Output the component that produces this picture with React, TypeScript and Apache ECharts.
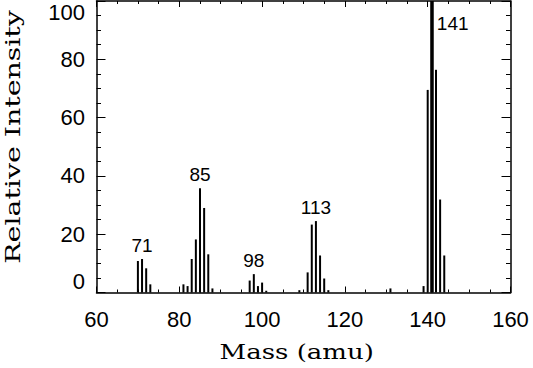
import React, { useEffect, useRef } from "react";
import * as echarts from "echarts";

// Mass spectrum: mass (amu) and relative intensity (%)
const masses = [70, 71, 72, 73, 81, 82, 83, 84, 85, 86, 87, 88, 97, 98, 99, 100, 101, 109, 111, 112, 113, 114, 115, 116, 131, 139, 140, 141, 142, 143, 144];
const intensities = [10.8, 11.5, 8.3, 2.8, 2.8, 2.2, 11.5, 18.2, 35.8, 29.0, 13.1, 1.4, 4.1, 6.3, 2.2, 3.4, 0.6, 0.8, 6.9, 23.3, 24.5, 12.7, 4.8, 0.8, 1.4, 2.2, 69.5, 100, 76.4, 31.9, 12.7];
const labeledPeaks = [71, 85, 98, 113];
const basePeak = 141;
const xRange = [60, 160];
const yRange = [0, 100];
const xTitle = "Mass (amu)";
const yTitle = "Relative Intensity";

export default function App() {
  const ref = useRef<HTMLDivElement>(null);
  useEffect(() => {
    if (!ref.current) return;
    const chart = echarts.init(ref.current, undefined, { renderer: "svg" });
    const tickFont = { color: "#000", fontFamily: "Liberation Sans", fontSize: 22 };
    const data = masses.map((m, i) => {
      const item: any = { value: [m, intensities[i]] };
      if (labeledPeaks.includes(m)) {
        item.label = { show: true, position: "top", distance: 4, formatter: String(m) };
      }
      if (m === basePeak) {
        item.label = { show: true, position: [6, 22], align: "left", verticalAlign: "middle", formatter: String(m) };
      }
      return item;
    });
    const baseIdx = masses.indexOf(basePeak);
    const commonX = {
      type: "value",
      min: xRange[0],
      max: xRange[1],
      interval: 20,
      splitLine: { show: false },
      axisLine: { show: true, onZero: false, lineStyle: { color: "#000", width: 1.5 } },
      axisTick: { show: true, inside: true, length: 6, lineStyle: { color: "#000", width: 1 } },
      minorTick: { show: true, splitNumber: 4, length: 3, lineStyle: { color: "#000", width: 1 } },
    };
    const commonY = {
      type: "value",
      min: yRange[0],
      max: yRange[1],
      interval: 20,
      splitLine: { show: false },
      axisLine: { show: true, onZero: false, lineStyle: { color: "#000", width: 1.5 } },
      axisTick: { show: true, inside: true, length: 9, lineStyle: { color: "#000", width: 1 } },
      minorTick: { show: true, splitNumber: 4, length: 4.5, lineStyle: { color: "#000", width: 1 } },
    };
    chart.setOption({
      animation: false,
      backgroundColor: "#fff",
      grid: { left: 96.5, right: 22.5, top: 1, bottom: 75.5, containLabel: false },
      xAxis: [
        { ...commonX, position: "bottom", axisLabel: { ...tickFont, margin: 16 } },
        { ...commonX, position: "top", axisLabel: { show: false } },
      ],
      yAxis: [
        {
          ...commonY,
          position: "left",
          axisLabel: { ...tickFont, margin: 11.5, verticalAlignMinLabel: "bottom", verticalAlignMaxLabel: "top" },
        },
        { ...commonY, position: "right", axisLabel: { show: false } },
      ],
      series: [
        {
          type: "bar",
          xAxisIndex: 0,
          yAxisIndex: 0,
          barWidth: 2,
          itemStyle: { color: "#000" },
          label: { show: false, color: "#000", fontFamily: "Liberation Sans", fontSize: 19 },
          data,
          markLine: {
            silent: true,
            symbol: "none",
            label: { show: false },
            lineStyle: { color: "#000", width: 3.5, type: "solid" },
            data: [[{ coord: [basePeak, 0] }, { coord: [basePeak, intensities[baseIdx]] }]],
          },
        },
      ],
      graphic: [
        {
          type: "text",
          x: 296.7,
          y: 352,
          scaleX: 1.3,
          style: { text: xTitle, fill: "#000", font: '20px "DejaVu Serif"', align: "center", verticalAlign: "middle" },
        },
        {
          type: "text",
          x: 13,
          y: 137,
          rotation: Math.PI / 2,
          scaleX: 1.42,
          style: { text: yTitle, fill: "#000", font: '20px "DejaVu Serif"', align: "center", verticalAlign: "middle" },
        },
      ],
    });
    return () => chart.dispose();
  }, []);
  return <div ref={ref} style={{ position: "fixed", left: 0, top: 0, width: 533, height: 368 }} />;
}
